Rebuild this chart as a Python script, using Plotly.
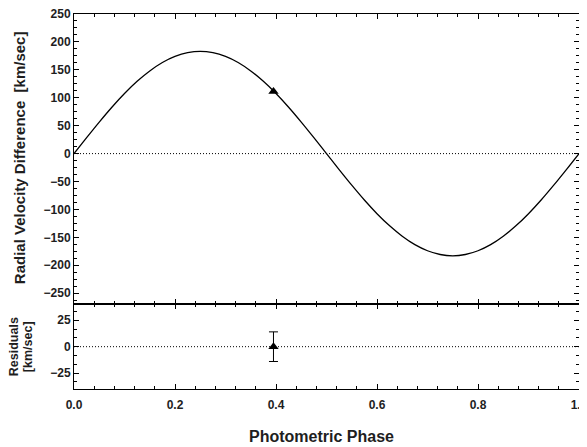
import plotly.graph_objects as go

# Model radial-velocity curve (phase, km/s)
phase_curve = [0.0, 0.025, 0.05, 0.075, 0.1, 0.125, 0.15, 0.175, 0.2, 0.225, 0.25,
               0.275, 0.3, 0.325, 0.35, 0.375, 0.4, 0.425, 0.45, 0.475, 0.5,
               0.525, 0.55, 0.575, 0.6, 0.625, 0.65, 0.675, 0.7, 0.725, 0.75,
               0.775, 0.8, 0.825, 0.85, 0.875, 0.9, 0.925, 0.95, 0.975, 1.0]
rv_curve = [0, 28.6, 56.5, 83.1, 107.6, 129.4, 148.0, 163.1, 174.0, 180.7, 183.0,
            180.7, 174.0, 163.1, 148.0, 129.4, 107.6, 83.1, 56.5, 28.6, 0,
            -28.6, -56.5, -83.1, -107.6, -129.4, -148.0, -163.1, -174.0, -180.7, -183.0,
            -180.7, -174.0, -163.1, -148.0, -129.4, -107.6, -83.1, -56.5, -28.6, 0]

# Observation
obs_phase = [0.395]
obs_rv = [111]
res_value = [0]
res_err = [14]

x_ticks = [0.0, 0.2, 0.4, 0.6, 0.8, 1.0]
x_ticklabels = ["0.0", "0.2", "0.4", "0.6", "0.8", "1.0"]
rv_ticks = [250, 200, 150, 100, 50, 0, -50, -100, -150, -200, -250]
res_ticks = [25, 0, -25]

FONT = "Liberation Sans, Arial, sans-serif"
INK = "#1e1e1e"

fig = go.Figure()
fig.add_trace(go.Scatter(x=phase_curve, y=rv_curve, mode="lines", line_shape="spline",
                         line=dict(color="black", width=1.3), xaxis="x", yaxis="y",
                         showlegend=False, hoverinfo="skip"))
fig.add_trace(go.Scatter(x=obs_phase, y=obs_rv, mode="markers",
                         marker=dict(symbol="triangle-up", size=9, color="black"),
                         xaxis="x", yaxis="y", showlegend=False))
fig.add_trace(go.Scatter(x=obs_phase, y=res_value, mode="markers",
                         marker=dict(symbol="triangle-up", size=9, color="black"),
                         error_y=dict(type="data", array=res_err, visible=True,
                                      color="black", thickness=1, width=4.5),
                         xaxis="x2", yaxis="y2", showlegend=False))

# zero lines
for xr, yr in (("x", "y"), ("x2", "y2")):
    fig.add_shape(type="line", xref=xr, yref=yr, x0=0, x1=1, y0=0, y1=0,
                  line=dict(color="black", width=1, dash="1px,2px"), layer="below")

axis_common = dict(showline=True, linecolor="black", linewidth=1, mirror="ticks",
                   ticks="inside", ticklen=5, tickwidth=1, tickcolor="black",
                   showgrid=False, zeroline=False, automargin=False,
                   ticklabeloverflow="allow",
                   tickfont=dict(family=FONT, size=12, color=INK, weight="bold"))

# the page body has an 8px margin, so the figure is sized/offset to compensate
domain_split = 0.2257
fig.update_layout(
    width=579, height=439,
    margin=dict(l=66, r=7.5, t=5.5, b=58.3, autoexpand=False),
    paper_bgcolor="white", plot_bgcolor="white",
    xaxis=dict(domain=[0, 1], range=[0, 1], anchor="y", matches="x2",
               tickvals=x_ticks, showticklabels=False,
               minor=dict(dtick=0.04, tick0=0, ticks="inside", ticklen=3, tickcolor="black"),
               **axis_common),
    xaxis2=dict(domain=[0, 1], range=[0, 1], anchor="y2",
                tickvals=x_ticks, ticktext=x_ticklabels, ticklabelstandoff=5,
                minor=dict(dtick=0.04, tick0=0, ticks="inside", ticklen=3, tickcolor="black"),
                **axis_common),
    yaxis=dict(domain=[domain_split, 1], range=[-270, 250], anchor="x",
               tickvals=rv_ticks, ticklabelstandoff=0,
               minor=dict(dtick=12.5, tick0=0, ticks="inside", ticklen=3, tickcolor="black"),
               **axis_common),
    yaxis2=dict(domain=[0, domain_split], range=[-40, 40], anchor="x2",
                tickvals=res_ticks, ticklabelstandoff=0,
                minor=dict(dtick=25/3, tick0=0, ticks="inside", ticklen=3, tickcolor="black"),
                **axis_common),
    annotations=[
        dict(text="Radial Velocity Difference  [km/sec]", xref="paper", yref="paper",
             x=0, y=(1 + domain_split) / 2, xanchor="center", yanchor="middle",
             xshift=-55, yshift=1, textangle=-90, showarrow=False,
             font=dict(family=FONT, size=15, color=INK, weight="bold")),
        dict(text="Residuals", xref="paper", yref="paper",
             x=0, y=domain_split / 2, xanchor="center", yanchor="middle",
             xshift=-60.5, textangle=-90, showarrow=False,
             font=dict(family=FONT, size=12.5, color=INK, weight="bold")),
        dict(text="[km/sec]", xref="paper", yref="paper",
             x=0, y=domain_split / 2, xanchor="center", yanchor="middle",
             xshift=-46.5, textangle=-90, showarrow=False,
             font=dict(family=FONT, size=12.5, color=INK, weight="bold")),
        dict(text="Photometric Phase", xref="paper", yref="paper",
             x=0.5, y=0, xanchor="center", yanchor="middle",
             xshift=-5.5, yshift=-47, showarrow=False,
             font=dict(family=FONT, size=16, color=INK, weight="bold")),
    ],
)

fig.write_html("out.html")
